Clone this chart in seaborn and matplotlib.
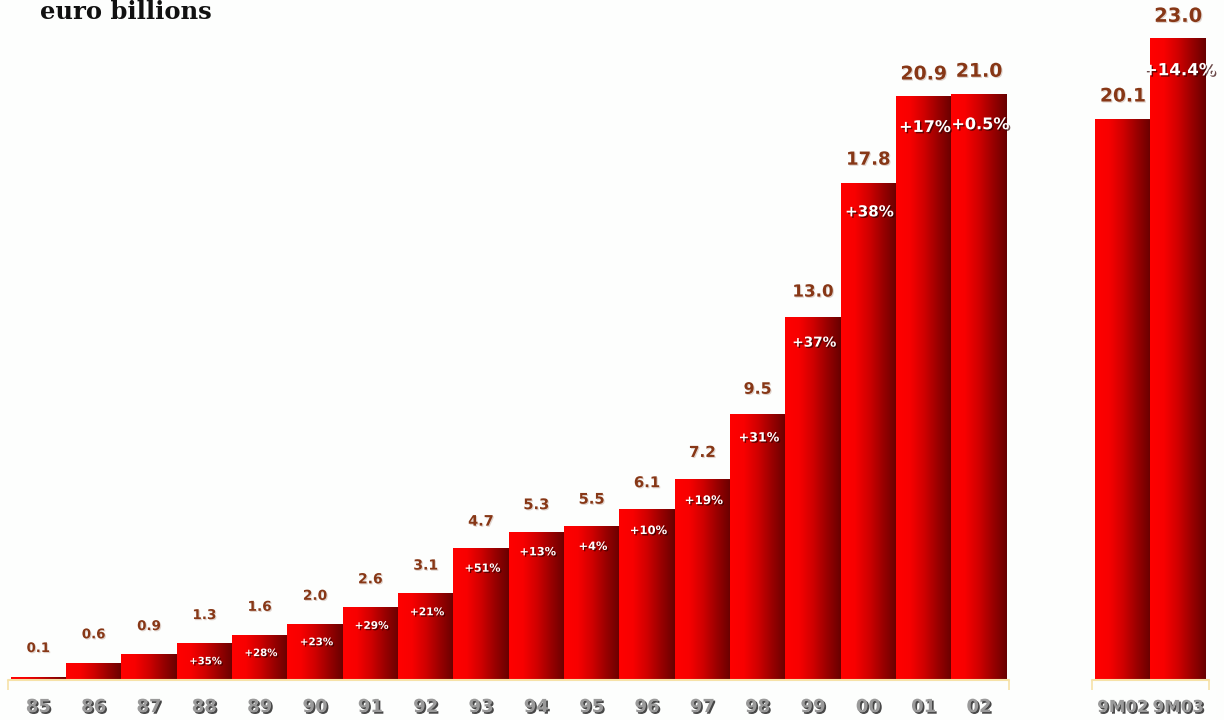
import numpy as np
import matplotlib
matplotlib.use("Agg")
import matplotlib.pyplot as plt
import matplotlib.patheffects as pe
import matplotlib.transforms as mtransforms
from matplotlib.colors import LinearSegmentedColormap
import seaborn as sns

# data
years = ["85", "86", "87", "88", "89", "90", "91", "92", "93",
         "94", "95", "96", "97", "98", "99", "00", "01", "02"]
year_values = [0.1, 0.6, 0.9, 1.3, 1.6, 2.0, 2.6, 3.1, 4.7,
               5.3, 5.5, 6.1, 7.2, 9.5, 13.0, 17.8, 20.9, 21.0]
year_growth = ["", "", "", "+35%", "+28%", "+23%", "+29%", "+21%", "+51%",
               "+13%", "+4%", "+10%", "+19%", "+31%", "+37%", "+38%", "+17%", "+0.5%"]
periods = ["9M02", "9M03"]
period_values = [20.1, 23.0]
period_growth = ["", "+14.4%"]

# layout: years side by side, then a gap before the nine-month figures
gap = 1.6
pos = list(np.arange(len(years), dtype=float))
start = pos[-1] + 1 + gap
pos += [start + i for i in range(len(periods))]
labels = years + periods
values = year_values + period_values
growth = year_growth + period_growth

sns.set_style("white")
plt.rcParams["font.family"] = ["DejaVu Sans"]

fig = plt.figure(figsize=(12.24, 7.2), dpi=100)
fig.patch.set_facecolor("#fdfefd")
ax = fig.add_axes([0, 40 / 720, 1, 680 / 720])
ax.set_facecolor("none")

sns.barplot(x=pos, y=values, native_scale=True, width=1.0, color="red",
            errorbar=None, linewidth=0, ax=ax)

# left-to-right red gradient on every bar
cmap = LinearSegmentedColormap.from_list(
    "bar", ["#ff0000", "#f80000", "#d00000", "#9a0000", "#680000"])
grad = np.linspace(0, 1, 256).reshape(1, -1)
for p in list(ax.patches):
    x0, y0, w, h = p.get_x(), p.get_y(), p.get_width(), p.get_height()
    ax.imshow(grad, extent=[x0, x0 + w, y0, y0 + h], aspect="auto",
              cmap=cmap, zorder=2, interpolation="bilinear")
    p.set_visible(False)

px_per_unit = 27.9
ax.set_ylim(0, 680 / px_per_unit)
ax.set_xlim(-0.693, -0.693 + 1224 / 55.33)
ax.set_aspect("auto")

# base lines
line_col = "#f6e2a8"
for a, b in [(pos[0] - 0.55, pos[len(years) - 1] + 0.55),
             (pos[len(years)] - 0.55, pos[-1] + 0.55)]:
    ax.plot([a, b], [0, 0], color=line_col, lw=1.5, clip_on=False, zorder=3)
    ax.vlines([a, b], -0.35, 0, color=line_col, lw=1.2, clip_on=False)

# value and growth labels
top = max(values)
for x, v, g in zip(pos, values, growth):
    frac = v / top
    ax.annotate(f"{v:.1f}", (x, v), xytext=(0, 16 - 7 * frac), textcoords="offset points",
                ha="center", va="bottom", fontsize=9.5 + 4.5 * frac,
                fontweight="bold", color="#873716", zorder=5,
                path_effects=[pe.SimplePatchShadow(offset=(0.8, -0.8),
                                                   shadow_rgbFace="#d8c8c0", alpha=0.8),
                              pe.Normal()])
    if g:
        ax.annotate(g, (x, v), xytext=(1, -(12 + 11 * frac)), textcoords="offset points",
                    ha="center", va="center", fontsize=7 + 5 * frac,
                    fontweight="bold", color="white", zorder=5,
                    path_effects=[pe.SimplePatchShadow(offset=(1, -1),
                                                       shadow_rgbFace="#300000", alpha=0.7),
                                  pe.Normal()])

ax.set_xticks(pos)
ax.set_xticklabels(labels, fontsize=13, fontweight="bold", color="#9a9a9a")
ticklabels = ax.get_xticklabels()
for lbl in ticklabels:
    lbl.set_path_effects([pe.SimplePatchShadow(offset=(1.2, -1.2),
                                               shadow_rgbFace="#333333", alpha=0.9),
                          pe.Normal()])
# the two nine-month labels are pushed apart so they don't run together
for lbl, dx in zip(ticklabels[len(years):], [-9, 8]):
    lbl.set_fontsize(12)
    lbl.set_transform(lbl.get_transform() +
                      mtransforms.ScaledTranslation(dx / 100, 0, fig.dpi_scale_trans))
ax.tick_params(axis="x", length=0, pad=13)
ax.set_yticks([])
sns.despine(ax=ax, left=True, bottom=True)

fig.text(40 / 1224, 1 - 19 / 720, "euro billions", family="DejaVu Serif",
         fontweight="bold", fontsize=17.5, va="baseline", ha="left", color="#111111")

fig.savefig("out.png", dpi=100, facecolor=fig.get_facecolor())
